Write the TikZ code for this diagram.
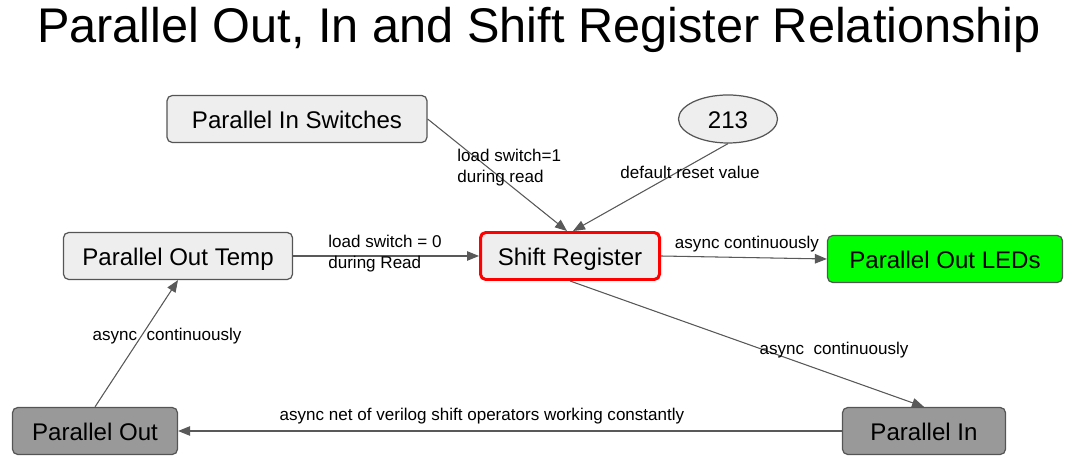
\documentclass[tikz,border=0pt]{standalone}
\usepackage{fontspec}
\setmainfont{Liberation Sans}
\usetikzlibrary{arrows.meta, shapes.geometric}

\begin{document}
\begin{tikzpicture}[
    x=0.2mm, y=-0.2mm,
    box/.style={
        rectangle,
        rounded corners=3pt,
        draw=boxedge,
        fill=boxfill,
        line width=0.7pt,
        inner sep=0pt,
        minimum height=9.4mm,
        text height=10.4pt,
        text depth=0pt,
        font=\fontsize{13.7}{16}\selectfont
    },
    lbl/.style={
        align=left,
        inner sep=0pt,
        font=\fontsize{9.7}{12}\selectfont
    },
    arrow/.style={-{Triangle[length=2.4mm, width=1.9mm]}, draw=linegray, fill=linegray, line width=0.6pt}
]

% Colors
\definecolor{boxfill}{HTML}{EEEEEE}
\definecolor{boxedge}{HTML}{555555}
\definecolor{darkfill}{HTML}{999999}
\definecolor{ledgreen}{HTML}{00FF00}
\definecolor{regred}{HTML}{FF0000}
\definecolor{linegray}{HTML}{595959}

\useasboundingbox (0,0) rectangle (1074,466);

% Title
\node[font=\fontsize{27.7}{32}\selectfont] (title) at (539,30) {Parallel Out, In and Shift Register Relationship};

% Row 1
\node[box, minimum width=52mm] (switches) at (297,119) {Parallel In Switches};

\node[ellipse, draw=boxedge, fill=boxfill, line width=0.7pt, inner sep=0pt,
      minimum width=19.8mm, minimum height=9.6mm, text height=10.4pt, text depth=0pt,
      font=\fontsize{13.7}{16}\selectfont] (reset) at (728,119) {213};

% Row 2
\node[box, minimum width=45.8mm] (temp) at (178,256) {Parallel Out Temp};

\node[box, minimum width=35.8mm, draw=regred, line width=1.7pt] (shiftreg) at (570,256) {Shift Register};

\node[box, minimum width=47mm, fill=ledgreen] (leds) at (945,259) {Parallel Out LEDs};

% Row 3
\node[box, minimum width=33mm, fill=darkfill] (pout) at (95,431) {Parallel Out};

\node[box, minimum width=32.6mm, fill=darkfill] (pin) at (924,431) {Parallel In};

% Arrows
\draw[arrow] (switches.east) -- ([xshift=-0.6mm]shiftreg.north);

\draw[arrow] (reset.south) -- ([xshift=0.6mm]shiftreg.north);

\draw[arrow] (temp.east) -- (shiftreg.west);

\draw[arrow] (shiftreg.east) -- (leds.west);

\draw[arrow] (shiftreg.south) -- (pin.north);

\draw[arrow] (pin.west) -- (pout.east);

\draw[arrow] (pout.north) -- (temp.south);

% Labels
\node[lbl, anchor=west] (lblswitch) at (457,168) {load switch=1\\during read};
\node[lbl] (lblreset) at (690,172) {default reset value};
\node[lbl, anchor=west] (lbltemp) at (328,254) {load switch = 0\\during Read};
\node[lbl] (lblleds) at (747,244) {async continuously};
\node[lbl] (lblpin) at (834,350) {async\ \ continuously};
\node[lbl] (lblnet) at (482,416) {async net of verilog shift operators working constantly};
\node[lbl] (lblpout) at (167,336) {async\ \ continuously};

\end{tikzpicture}
\end{document}
